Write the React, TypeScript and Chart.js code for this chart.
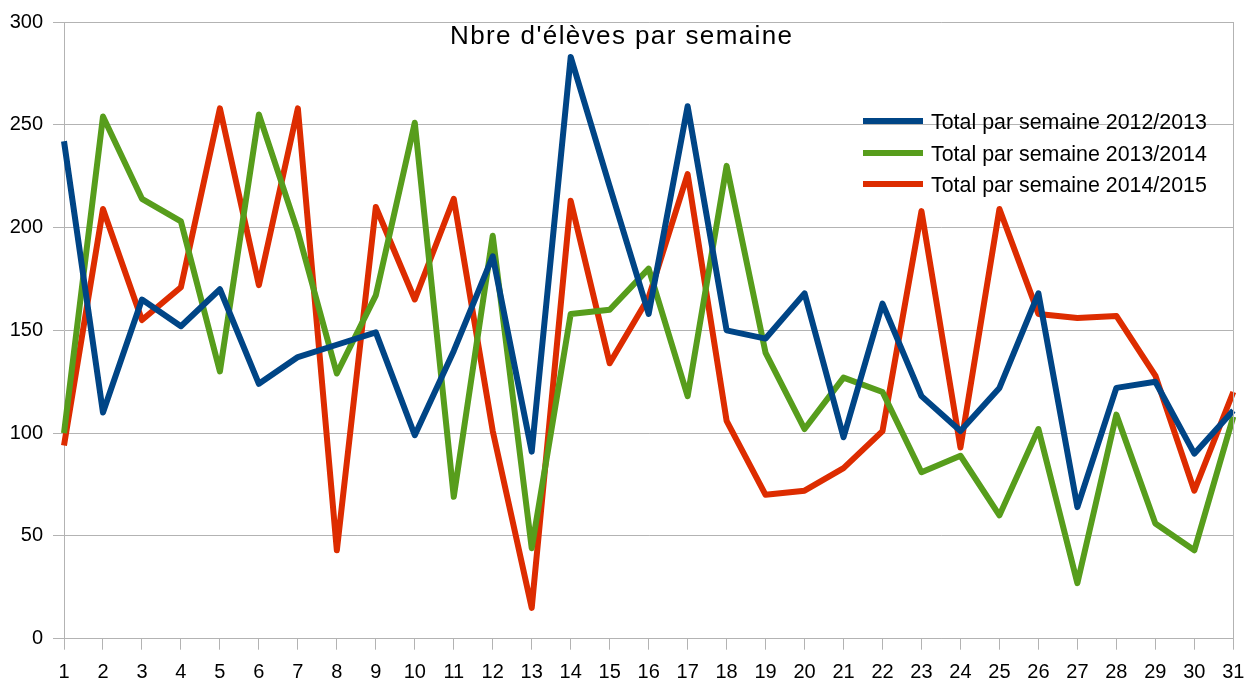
import React, { useEffect, useRef } from 'react';
import { Chart, registerables } from 'chart.js';

Chart.register(...registerables);

const weeks = ['1','2','3','4','5','6','7','8','9','10','11','12','13','14','15','16','17','18','19','20','21','22','23','24','25','26','27','28','29','30','31'];
const total2012 = [242,110,165,152,170,124,137,143,149,99,140,186,91,283,220,158,259,150,146,168,98,163,118,101,122,168,64,122,125,90,111];
const total2013 = [100,254,214,203,130,255,198,129,167,251,69,196,44,158,160,180,118,230,139,102,127,120,81,89,60,102,27,109,56,43,108];
const total2014 = [94,209,155,171,258,172,258,43,210,165,214,101,15,213,134,166,226,106,70,72,83,101,208,93,209,158,156,157,128,72,120];
const seriesNames = ['Total par semaine 2012/2013', 'Total par semaine 2013/2014', 'Total par semaine 2014/2015'];
const seriesColors = ['#004586', '#579d1c', '#dd2c00'];
const chartTitle = "Nbre d'élèves par semaine";

const FONT = '"Liberation Sans", Arial, sans-serif';
const GRID = '#b3b3b3';

const overlayPlugin = {
  id: 'overlay',
  afterDraw(chart: any) {
    const ctx = chart.ctx as CanvasRenderingContext2D;
    const a = chart.chartArea;
    ctx.save();
    // right frame
    ctx.strokeStyle = GRID;
    ctx.lineWidth = 1;
    const rx = Math.round(a.right) + 0.5;
    ctx.beginPath();
    ctx.moveTo(rx, a.top);
    ctx.lineTo(rx, a.bottom);
    ctx.stroke();
    // title
    ctx.fillStyle = '#000';
    ctx.font = `26px ${FONT}`;
    (ctx as any).letterSpacing = '1.4px';
    ctx.textAlign = 'left';
    ctx.textBaseline = 'alphabetic';
    ctx.fillText(chartTitle, 450, 44);
    (ctx as any).letterSpacing = '0px';
    // legend
    ctx.font = `21.4px ${FONT}`;
    const rows = [121, 153, 184];
    chart.data.datasets.forEach((ds: any, i: number) => {
      const y = rows[i];
      ctx.strokeStyle = ds.borderColor;
      ctx.lineWidth = 6;
      ctx.lineCap = 'butt';
      ctx.beginPath();
      ctx.moveTo(863, y);
      ctx.lineTo(923, y);
      ctx.stroke();
      ctx.fillStyle = '#000';
      ctx.fillText(ds.label, 931, y + 8);
    });
    ctx.restore();
  },
};

export default function App() {
  const ref = useRef<HTMLCanvasElement>(null);
  useEffect(() => {
    if (!ref.current) return;
    const data = [total2012, total2013, total2014];
    const chart = new Chart(ref.current, {
      type: 'line',
      data: {
        labels: weeks,
        datasets: data.map((d, i) => ({
          label: seriesNames[i],
          data: d,
          borderColor: seriesColors[i],
          backgroundColor: seriesColors[i],
          borderWidth: 6,
          pointRadius: 0,
          borderJoinStyle: 'round' as const,
          borderCapStyle: 'butt' as const,
          tension: 0,
          fill: false,
        })),
      },
      options: {
        responsive: false,
        animation: false,
        devicePixelRatio: 1,
        layout: { padding: { top: 20, right: 23.7, left: 0, bottom: 0 } },
        plugins: {
          legend: { display: false },
          title: { display: false },
          tooltip: { enabled: false },
        },
        scales: {
          x: {
            type: 'category',
            offset: false,
            grid: { display: true, drawOnChartArea: false, drawTicks: true, tickLength: 11, color: GRID },
            border: { display: true, color: GRID },
            ticks: { color: '#000', font: { family: FONT, size: 20 }, padding: 11, maxRotation: 0, autoSkip: false },
            afterFit: (s: any) => { s.height = 43.3; },
          },
          y: {
            min: 0,
            max: 300,
            grid: { color: GRID, tickLength: 11, drawTicks: true },
            border: { display: true, color: GRID },
            ticks: { stepSize: 50, color: '#000', font: { family: FONT, size: 20 }, padding: 10 },
            afterFit: (s: any) => { s.width = 64; },
          },
        },
      },
      plugins: [overlayPlugin],
    });
    return () => chart.destroy();
  }, []);
  return (
    <div style={{ position: 'absolute', left: 0, top: 0, width: 1257, height: 682, background: '#fff' }}>
      <canvas ref={ref} width={1257} height={682} />
    </div>
  );
}
